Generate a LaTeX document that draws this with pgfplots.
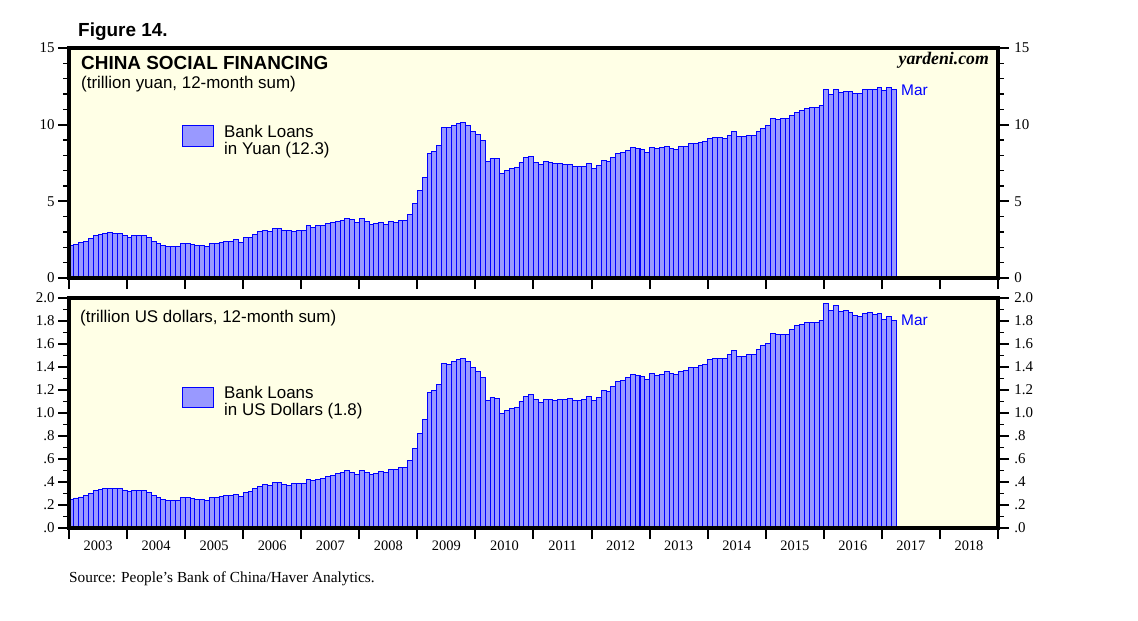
\documentclass[border=0pt]{standalone}
\usepackage{pgfplots}
\pgfplotsset{compat=1.18}
\usepackage{pgfplotstable}
\usepackage{fontspec}
\setmainfont{Liberation Serif}
\newfontfamily\arial{Liberation Sans}

\definecolor{bgyel}{RGB}{255,255,230}
\definecolor{barfill}{RGB}{153,153,255}
\definecolor{barline}{RGB}{0,0,255}

% monthly 12-month sums, Jan 2003 .. Mar 2017, one year per line
\pgfplotstableread[row sep=\\]{
v\\
2.13\\2.20\\2.33\\2.41\\2.59\\2.78\\2.85\\2.91\\2.98\\2.91\\2.91\\2.78\\
2.65\\2.78\\2.78\\2.78\\2.65\\2.39\\2.26\\2.13\\2.04\\2.04\\2.04\\2.26\\
2.26\\2.20\\2.13\\2.13\\2.07\\2.26\\2.26\\2.33\\2.41\\2.41\\2.52\\2.33\\
2.65\\2.65\\2.85\\3.04\\3.11\\3.04\\3.24\\3.24\\3.11\\3.11\\3.04\\3.11\\
3.11\\3.43\\3.30\\3.43\\3.43\\3.57\\3.63\\3.70\\3.76\\3.89\\3.83\\3.63\\
3.89\\3.70\\3.50\\3.57\\3.63\\3.50\\3.70\\3.63\\3.76\\3.76\\4.15\\4.87\\
5.72\\6.57\\8.13\\8.26\\8.65\\9.80\\9.80\\9.96\\10.09\\10.15\\9.96\\9.57\\
9.37\\8.98\\7.61\\7.80\\7.80\\6.83\\7.02\\7.15\\7.22\\7.54\\7.87\\7.93\\
7.54\\7.41\\7.61\\7.54\\7.48\\7.48\\7.41\\7.41\\7.28\\7.28\\7.28\\7.48\\
7.15\\7.35\\7.67\\7.61\\7.87\\8.13\\8.20\\8.33\\8.52\\8.46\\8.39\\8.20\\
8.52\\8.46\\8.52\\8.59\\8.46\\8.39\\8.59\\8.59\\8.78\\8.78\\8.85\\8.91\\
9.09\\9.17\\9.17\\9.09\\9.30\\9.57\\9.24\\9.24\\9.30\\9.30\\9.57\\9.76\\
9.96\\10.41\\10.35\\10.41\\10.41\\10.61\\10.80\\10.93\\11.07\\11.13\\11.13\\11.26\\
12.30\\11.98\\12.30\\12.11\\12.17\\12.17\\12.04\\12.04\\12.30\\12.30\\12.30\\12.43\\
12.24\\12.43\\12.30\\
}\yuan

\pgfplotstableread[row sep=\\]{
v\\
0.252\\0.261\\0.270\\0.284\\0.301\\0.328\\0.336\\0.345\\0.345\\0.345\\0.345\\0.328\\
0.319\\0.328\\0.328\\0.328\\0.310\\0.284\\0.267\\0.249\\0.240\\0.240\\0.240\\0.267\\
0.267\\0.258\\0.249\\0.249\\0.240\\0.267\\0.267\\0.275\\0.284\\0.284\\0.293\\0.275\\
0.310\\0.319\\0.345\\0.362\\0.380\\0.371\\0.397\\0.397\\0.380\\0.371\\0.388\\0.388\\
0.388\\0.423\\0.414\\0.423\\0.432\\0.449\\0.458\\0.475\\0.484\\0.501\\0.484\\0.467\\
0.501\\0.484\\0.467\\0.475\\0.493\\0.484\\0.510\\0.510\\0.528\\0.528\\0.588\\0.693\\
0.823\\0.945\\1.180\\1.197\\1.249\\1.432\\1.423\\1.449\\1.467\\1.475\\1.449\\1.397\\
1.362\\1.310\\1.110\\1.136\\1.128\\0.997\\1.023\\1.040\\1.049\\1.101\\1.145\\1.162\\
1.119\\1.093\\1.119\\1.119\\1.110\\1.119\\1.119\\1.128\\1.110\\1.110\\1.119\\1.145\\
1.110\\1.136\\1.197\\1.188\\1.232\\1.275\\1.284\\1.310\\1.336\\1.328\\1.319\\1.293\\
1.345\\1.328\\1.336\\1.362\\1.345\\1.336\\1.362\\1.371\\1.397\\1.397\\1.414\\1.423\\
1.467\\1.475\\1.475\\1.475\\1.510\\1.545\\1.493\\1.493\\1.510\\1.510\\1.554\\1.588\\
1.606\\1.693\\1.684\\1.684\\1.684\\1.728\\1.762\\1.771\\1.788\\1.788\\1.788\\1.806\\
1.954\\1.893\\1.936\\1.884\\1.893\\1.875\\1.849\\1.841\\1.867\\1.875\\1.858\\1.867\\
1.814\\1.841\\1.806\\
}\usd

\pgfplotsset{
  panel/.style={
    scale only axis, width=929bp, height=230bp,
    xmin=2003, xmax=2019,
    axis on top,
    axis background/.style={fill=bgyel},
    axis line style={line width=3.2bp},
    tick align=outside,
    major tick length=11bp, minor tick length=6bp,
    major tick style={black, line width=2bp},
    minor tick style={black, line width=1.4bp},
    xtick={2003,...,2019}, xticklabels={},
    xtick pos=left, ytick pos=both, yticklabel pos=left,
    ticklabel style={font=\fontsize{15}{15}\selectfont},
    /pgf/number format/assume math mode=true,
  },
  rightlab/.style={
    scale only axis, width=929bp, height=230bp,
    xmin=2003, xmax=2019,
    axis line style={draw=none},
    xtick=\empty,
    tick align=outside, major tick length=11bp,
    tick style={draw=none},
    ytick pos=right, yticklabel pos=right,
    yticklabel style={font=\fontsize{15}{15}\selectfont, xshift=2bp},
  },
  bars/.style={ybar, bar width=0.083333, fill=barfill, draw=barline, line width=0.9bp},
}

\begin{document}
\begin{tikzpicture}
\useasboundingbox (0,0) rectangle (1138bp,-621bp);

%% upper panel: yuan
\begin{axis}[panel, at={(69bp,-278bp)}, anchor=south west,
  ymin=0, ymax=15, ytick={0,5,10,15}, yticklabels={0,5,10,15},
  minor y tick num=4]
\addplot[bars] table[x expr={2003+(\coordindex+0.5)/12}, y=v] {\yuan};
\end{axis}
\begin{axis}[rightlab, at={(69bp,-278bp)}, anchor=south west,
  ymin=0, ymax=15, ytick={0,5,10,15}, yticklabels={0,5,10,15}]
\end{axis}

%% lower panel: US dollars
\begin{axis}[panel, at={(69bp,-528bp)}, anchor=south west,
  ymin=0, ymax=2, ytick={0,0.2,...,2.0},
  yticklabels={.0,.2,.4,.6,.8,1.0,1.2,1.4,1.6,1.8,2.0},
  minor y tick num=1,
  extra x ticks={2003.5,2004.5,2005.5,2006.5,2007.5,2008.5,2009.5,2010.5,2011.5,2012.5,2013.5,2014.5,2015.5,2016.5,2017.5,2018.5},
  extra x tick labels={2003,2004,2005,2006,2007,2008,2009,2010,2011,2012,2013,2014,2015,2016,2017,2018},
  extra x tick style={tick style={draw=none}, ticklabel style={font=\fontsize{14.5}{14.5}\selectfont, yshift=2bp}}]
\addplot[bars] table[x expr={2003+(\coordindex+0.5)/12}, y=v] {\usd};
\end{axis}
\begin{axis}[rightlab, at={(69bp,-528bp)}, anchor=south west,
  ymin=0, ymax=2, ytick={0,0.2,...,2.0},
  yticklabels={.0,.2,.4,.6,.8,1.0,1.2,1.4,1.6,1.8,2.0}]
\end{axis}

%% texts
\node[anchor=base west, inner sep=0] at (78bp,-36bp)
  {\arial\bfseries\fontsize{19}{19}\selectfont Figure 14.};
\node[anchor=base west, inner sep=0] at (81bp,-69bp)
  {\arial\bfseries\fontsize{19}{19}\selectfont CHINA SOCIAL FINANCING};
\node[anchor=base west, inner sep=0] at (81bp,-88bp)
  {\arial\fontsize{17}{17}\selectfont (trillion yuan, 12-month sum)};
\node[anchor=base east, inner sep=0] at (989bp,-64bp)
  {\bfseries\itshape\fontsize{17.8}{17.8}\selectfont yardeni.com};
\node[anchor=base west, inner sep=0, text=barline] at (901bp,-95bp)
  {\arial\fontsize{15.5}{15.5}\selectfont Mar};
\draw[draw=barline, fill=barfill, line width=1bp] (182bp,-125bp) rectangle (213bp,-146bp);
\node[anchor=base west, inner sep=0] at (224bp,-137bp)
  {\arial\fontsize{17}{17}\selectfont Bank Loans};
\node[anchor=base west, inner sep=0] at (224bp,-154bp)
  {\arial\fontsize{17}{17}\selectfont in Yuan (12.3)};

\node[anchor=base west, inner sep=0] at (80bp,-322bp)
  {\arial\fontsize{17}{17}\selectfont (trillion US dollars, 12-month sum)};
\node[anchor=base west, inner sep=0, text=barline] at (901bp,-325bp)
  {\arial\fontsize{15.5}{15.5}\selectfont Mar};
\draw[draw=barline, fill=barfill, line width=1bp] (182bp,-387bp) rectangle (213bp,-407bp);
\node[anchor=base west, inner sep=0] at (224bp,-398bp)
  {\arial\fontsize{17}{17}\selectfont Bank Loans};
\node[anchor=base west, inner sep=0] at (224bp,-415bp)
  {\arial\fontsize{17}{17}\selectfont in US Dollars (1.8)};

\node[anchor=base west, inner sep=0] at (69bp,-582bp)
  {\fontsize{15.4}{15.4}\selectfont Source: People’s Bank of China/Haver Analytics.};
\end{tikzpicture}
\end{document}
